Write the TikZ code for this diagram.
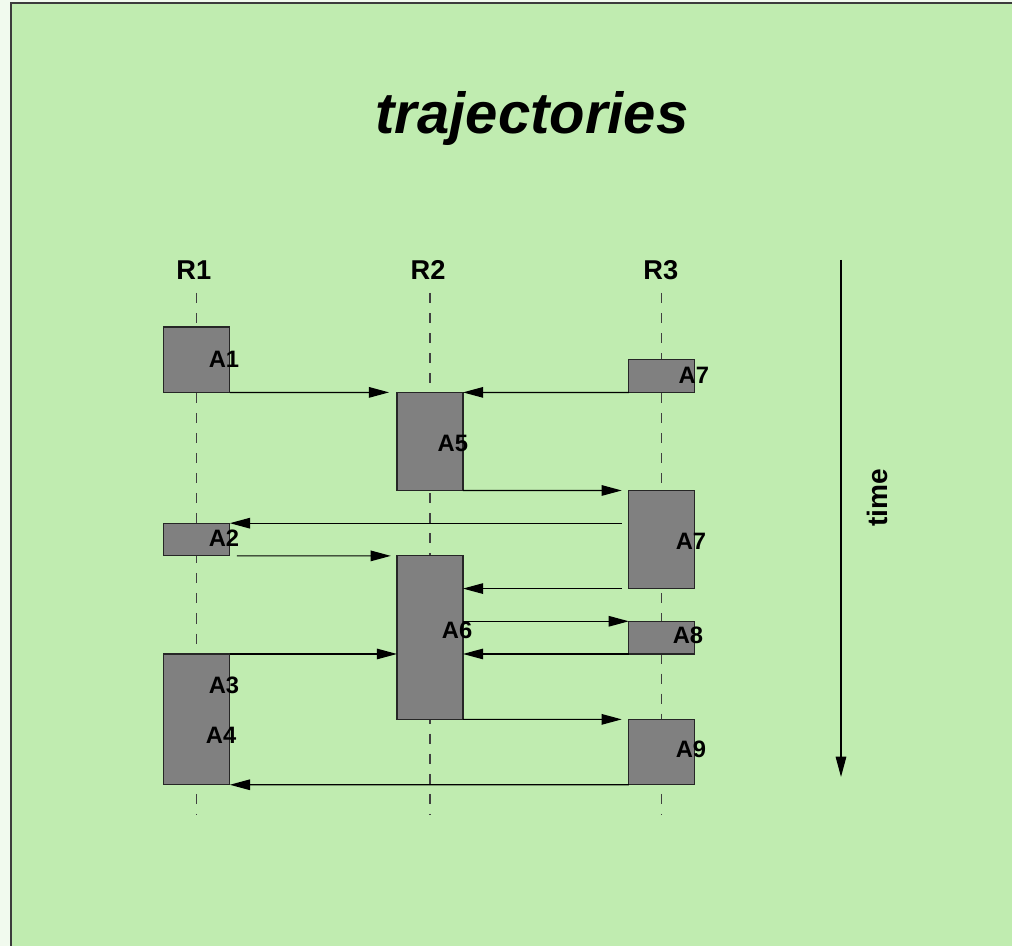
\documentclass[tikz,border=0pt]{standalone}
\usepackage{fontspec}
\setmainfont{Liberation Sans}
\usetikzlibrary{arrows.meta}
\definecolor{board}{RGB}{192,236,176}
\definecolor{paper}{RGB}{241,250,238}
\definecolor{edge}{RGB}{60,60,60}
\begin{document}
\begin{tikzpicture}[x=0.654cm,y=-0.654cm,
  act/.style={draw=black!85,fill=gray,line width=0.7pt,minimum width=1.32cm,inner sep=0pt,outer sep=0pt},
  role/.style={font=\fontsize{15.5}{18}\selectfont\bfseries,anchor=base},
  tag/.style={font=\fontsize{13.5}{16}\selectfont\bfseries,inner sep=0pt},
  life/.style={black!75,line width=0.6pt,dash pattern=on 5.7pt off 5.7pt},
  msg/.style={-{Triangle[length=11.5pt,width=6pt]},line width=0.7pt}]
\useasboundingbox (0,0) rectangle (30.95,28.93);
% board
\fill[paper] (0,0) rectangle (30.95,28.93);
\fill[board] (0.336,0.09) rectangle (30.95,28.93);
\draw[edge,line width=1.1pt] (0.336,28.93) -- (0.336,0.09) -- (30.95,0.09);
\node[font=\fontsize{33}{38}\selectfont\bfseries\itshape,anchor=base] (ttl) at (16.27,4.07) {trajectories};
% roles and lifelines
\node[role] (r1) at (5.93,8.56) {R1};
\node[role] (r2) at (13.09,8.56) {R2};
\node[role] (r3) at (20.21,8.56) {R3};
\coordinate (c1) at (6.02,8.96);
\coordinate (c2) at (13.15,8.96);
\coordinate (c3) at (20.24,8.96);
\coordinate (bot) at (0,24.92);
\draw[life] (c1) -- (c1 |- bot);
\draw[life] (c2) -- (c2 |- bot);
\draw[life] (c3) -- (c3 |- bot);
% activities
\node[act,minimum height=1.308cm] (a1) at (6.02,11) {};
\node[act,minimum height=0.654cm] (a2) at (6.02,16.5) {};
\node[act,minimum height=2.616cm] (a3) at (6.02,22) {};
\node[act,minimum height=1.962cm] (a5) at (13.15,13.5) {};
\node[act,minimum height=3.27cm] (a6) at (13.15,19.5) {};
\node[act,minimum height=0.654cm] (a7) at (20.24,11.5) {};
\node[act,minimum height=1.962cm] (a7b) at (20.24,16.5) {};
\node[act,minimum height=0.654cm] (a8) at (20.24,19.5) {};
\node[act,minimum height=1.308cm] (a9) at (20.24,23) {};
% messages
\draw[msg,shorten >=4.5pt] (a1.south east) -- (a5.north west);
\draw[msg] (a7.south west) -- (a5.north east);
\draw[msg,shorten >=4pt] (a5.south east) -- (a7b.north west);
\draw[msg,shorten <=4pt] (a7b.west |- a2.north) -- (a2.north east);
\draw[msg,shorten <=4pt,shorten >=3.5pt] (a2.south east) -- (a6.north west);
\draw[msg,shorten <=4pt] (a7b.south west) -- (a7b.south west -| a6.east);
\draw[msg] (a6.east |- a8.north) -- (a8.north west);
\draw[msg] (a8.south west) -- (a8.south west -| a6.east);
\draw[msg] (a3.north east) -- (a3.north east -| a6.west);
\draw[msg,shorten >=4pt] (a6.south east) -- (a9.north west);
\draw[msg] (a9.south west) -- (a3.south east);
% labels
\node[tag] (t1) at (6.85,10.98) {A1};
\node[tag] (t2) at (6.85,16.45) {A2};
\node[tag] (t3) at (6.85,20.96) {A3};
\node[tag] (t4) at (6.76,22.49) {A4};
\node[tag] (t5) at (13.85,13.55) {A5};
\node[tag] (t6) at (13.98,19.27) {A6};
\node[tag] (t7) at (21.22,11.47) {A7};
\node[tag] (t7b) at (21.13,16.54) {A7};
\node[tag] (t8) at (21.04,19.42) {A8};
\node[tag] (t9) at (21.13,22.92) {A9};
% time axis
\coordinate (ts) at (25.72,7.95);
\coordinate (te) at (25.72,23.76);
\draw[msg] (ts) -- (te);
\node[font=\fontsize{16}{19}\selectfont\bfseries,rotate=90] (time) at (26.83,15.23) {time};
\end{tikzpicture}
\end{document}
